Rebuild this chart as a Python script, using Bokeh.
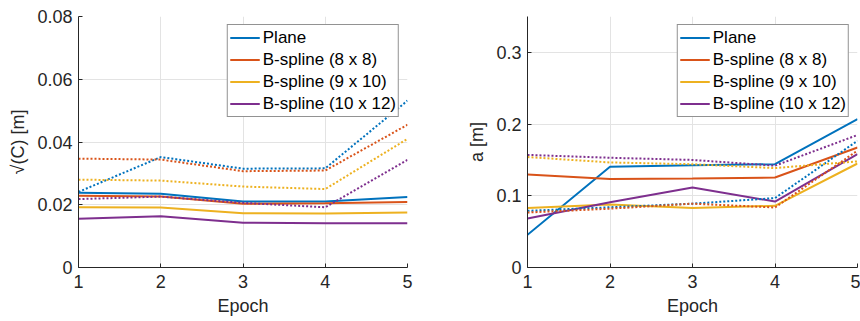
from bokeh.plotting import figure
from bokeh.layouts import row
from bokeh.models import Legend, LegendItem, FixedTicker, CustomJSTickFormatter, Range1d
from bokeh.embed import file_html
from bokeh.resources import INLINE

epochs = [1, 2, 3, 4, 5]
series_names = ["Plane", "B-spline (8 x 8)", "B-spline (9 x 10)", "B-spline (10 x 12)"]
colors = ["#0072BD", "#D95319", "#EDB120", "#7E2F8E"]

# Left panel: sqrt(C) [m]
c_plane = [0.0238, 0.0235, 0.0210, 0.0210, 0.0225]
c_b8 = [0.0229, 0.0226, 0.0203, 0.0205, 0.0209]
c_b9 = [0.0192, 0.0191, 0.0173, 0.0172, 0.0175]
c_b10 = [0.0155, 0.0163, 0.0143, 0.0141, 0.0141]
c_plane_dot = [0.0241, 0.0352, 0.0315, 0.0316, 0.0532]
c_b8_dot = [0.0347, 0.0344, 0.0307, 0.0309, 0.0455]
c_b9_dot = [0.0280, 0.0277, 0.0258, 0.0250, 0.0410]
c_b10_dot = [0.0218, 0.0226, 0.0206, 0.0192, 0.0343]
c_yticks = [0, 0.02, 0.04, 0.06, 0.08]

# Right panel: a [m]
a_plane = [0.0456, 0.1404, 0.1425, 0.1440, 0.2070]
a_b8 = [0.1297, 0.1233, 0.1240, 0.1255, 0.1674]
a_b9 = [0.0828, 0.0880, 0.0830, 0.0860, 0.1450]
a_b10 = [0.0684, 0.0910, 0.1116, 0.0920, 0.1580]
a_plane_dot = [0.0790, 0.0840, 0.0890, 0.0968, 0.1767]
a_b8_dot = [0.0767, 0.0820, 0.0890, 0.0837, 0.1630]
a_b9_dot = [0.1540, 0.1465, 0.1440, 0.1386, 0.1480]
a_b10_dot = [0.1570, 0.1530, 0.1500, 0.1420, 0.1847]
a_yticks = [0, 0.1, 0.2, 0.3]

FONT = "Liberation Sans"
TXT = "#262626"


def make_fig(solids, dots, ylabel, ymax, yticks, min_left, min_right, fw):
    p = figure(output_backend="svg", toolbar_location=None,
               frame_width=fw, frame_height=251,
               min_border_left=min_left, min_border_right=min_right,
               min_border_top=16, min_border_bottom=40,
               x_range=Range1d(1, 5), y_range=Range1d(0, ymax))
    p.outline_line_color = None
    p.background_fill_color = "white"
    p.border_fill_color = "white"
    for ax in (p.xaxis[0], p.yaxis[0]):
        ax.axis_line_color = TXT
        ax.major_tick_line_color = TXT
        ax.major_tick_in = 4
        ax.major_tick_out = 0
        ax.minor_tick_line_color = None
        ax.major_label_text_font = FONT
        ax.major_label_text_font_size = "18px"
        ax.major_label_text_color = TXT
        ax.axis_label_text_font = FONT
        ax.axis_label_text_font_size = "18px"
        ax.axis_label_text_font_style = "normal"
        ax.axis_label_text_color = TXT
    p.xaxis.ticker = FixedTicker(ticks=epochs)
    p.yaxis.ticker = FixedTicker(ticks=yticks)
    p.yaxis.formatter = CustomJSTickFormatter(code="return String(Number(tick.toFixed(3)));")
    p.xaxis.axis_label = "Epoch"
    p.yaxis.axis_label = ylabel
    p.xaxis.major_label_standoff = 7
    p.xaxis.axis_label_standoff = 5
    p.yaxis.major_label_standoff = 6
    p.yaxis.axis_label_standoff = 6
    p.xgrid.grid_line_color = "#e3e3e3"
    p.ygrid.grid_line_color = "#e3e3e3"
    p.xgrid.ticker = FixedTicker(ticks=epochs)
    p.ygrid.ticker = FixedTicker(ticks=yticks)

    items = []
    for ys, col, name in zip(solids, colors, series_names):
        r = p.line(epochs, ys, line_color=col, line_width=2)
        items.append(LegendItem(label=name, renderers=[r]))
    for ys, col in zip(dots, colors):
        p.line(epochs, ys, line_color=col, line_width=2, line_dash="2 2")

    leg = Legend(items=items, location="top_right")
    leg.margin = 8
    leg.padding = 2
    leg.spacing = 1
    leg.glyph_width = 30
    leg.glyph_height = 21
    leg.label_height = 21
    leg.label_standoff = 3
    leg.label_text_font = FONT
    leg.label_text_font_size = "17px"
    leg.label_text_color = "black"
    leg.border_line_color = TXT
    leg.border_line_width = 1
    leg.background_fill_color = "white"
    leg.background_fill_alpha = 1
    p.add_layout(leg)
    return p


p1 = make_fig([c_plane, c_b8, c_b9, c_b10], [c_plane_dot, c_b8_dot, c_b9_dot, c_b10_dot],
              "\u221a(C) [m]", 0.08, c_yticks, 78, 21, 329)
p2 = make_fig([a_plane, a_b8, a_b9, a_b10], [a_plane_dot, a_b8_dot, a_b9_dot, a_b10_dot],
              "a [m]", 0.35, a_yticks, 99, 3, 330)

layout = row(p1, p2, spacing=0)
open("out.html", "w").write(file_html(layout, INLINE))
